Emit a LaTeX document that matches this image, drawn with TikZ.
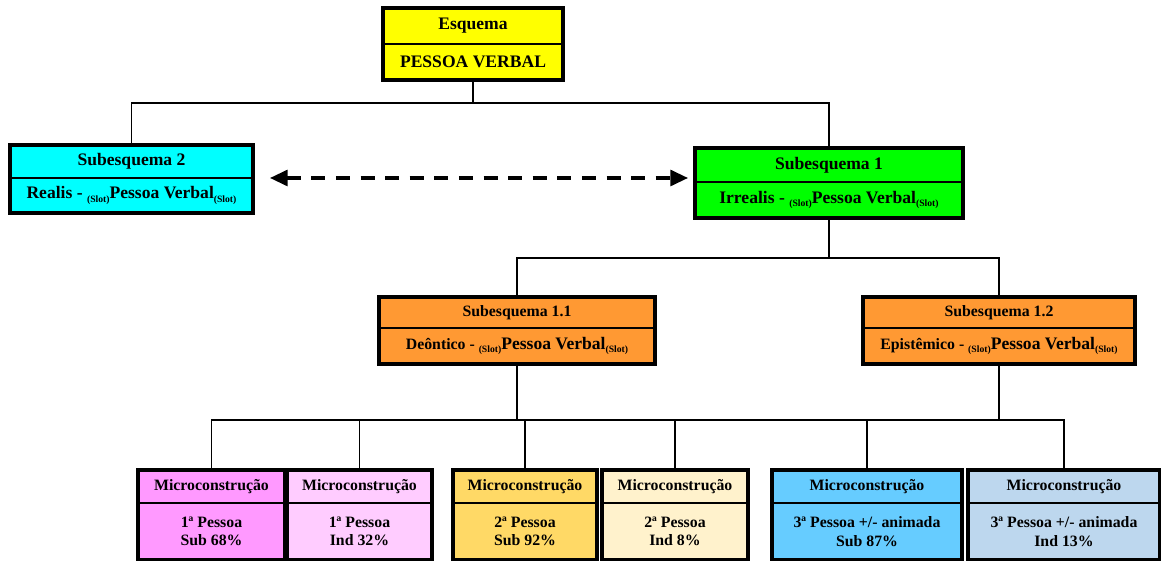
\documentclass[tikz,border=0pt]{standalone}
\usepackage{fontspec}
\setmainfont{Liberation Serif}
\usetikzlibrary{positioning,arrows.meta}

\definecolor{esqyellow}{HTML}{FFFF00}
\definecolor{subcyan}{HTML}{00FFFF}
\definecolor{subgreen}{HTML}{00FF00}
\definecolor{suborange}{HTML}{FF9933}
\definecolor{mcpink}{HTML}{FF99FF}
\definecolor{mclightpink}{HTML}{FFCCFF}
\definecolor{mcgold}{HTML}{FFD966}
\definecolor{mccream}{HTML}{FFF2CC}
\definecolor{mcblue}{HTML}{66CCFF}
\definecolor{mclightblue}{HTML}{BDD7EE}

\newcommand{\slt}{\raisebox{-0.4ex}{\fontsize{5.5}{6}\selectfont(Slot)}}
\newcommand{\pverb}{{\fontsize{10}{12}\selectfont Pessoa Verbal}}

\tikzset{
  part/.style={draw, line width=0.6pt, outer sep=0pt, inner sep=1pt, align=center, font=\bfseries\fontsize{10}{12}\selectfont},
  micro/.style={part, font=\bfseries\fontsize{9}{10.5}\selectfont},
  frame/.style={draw, line width=2pt},
  link/.style={line width=1pt},
  dasharrow/.style={line width=1.8pt, dash pattern=on 8pt off 6pt, {Triangle[length=10pt,width=9pt]}-{Triangle[length=10pt,width=9pt]}},
}

\begin{document}
\begin{tikzpicture}[x=0.02cm, y=-0.02cm]
\useasboundingbox (0,0) rectangle (1161,561);

% esquema
\node[part, fill=esqyellow, minimum width=3.6cm, minimum height=0.72cm, anchor=north] (esq) at (473,8) {Esquema};
\node[part, fill=esqyellow, minimum width=3.6cm, minimum height=0.72cm, below=0pt of esq] (esq-b) {PESSOA VERBAL};
\draw[frame] (esq.north west) rectangle (esq-b.south east);

% subesquemas
\node[part, fill=subcyan, minimum width=4.86cm, minimum height=0.66cm, anchor=north] (sub2) at (131.5,145) {Subesquema 2};
\node[part, fill=subcyan, minimum width=4.86cm, minimum height=0.70cm, below=0pt of sub2] (sub2-b) {Realis - \slt\pverb\slt};
\draw[frame] (sub2.north west) rectangle (sub2-b.south east);

\node[part, fill=subgreen, minimum width=5.36cm, minimum height=0.68cm, anchor=north] (sub1) at (829,148) {Subesquema 1};
\node[part, fill=subgreen, minimum width=5.36cm, minimum height=0.72cm, below=0pt of sub1] (sub1-b) {Irrealis - \slt\pverb\slt};
\draw[frame] (sub1.north west) rectangle (sub1-b.south east);

\node[part, fill=suborange, font=\bfseries\fontsize{9}{11}\selectfont, minimum width=5.52cm, minimum height=0.62cm, anchor=north] (s11) at (517,297) {Subesquema 1.1};
\node[part, fill=suborange, font=\bfseries\fontsize{9}{11}\selectfont, minimum width=5.52cm, minimum height=0.72cm, below=0pt of s11] (s11-b) {Deôntico - \slt\pverb\slt};
\draw[frame] (s11.north west) rectangle (s11-b.south east);

\node[part, fill=suborange, font=\bfseries\fontsize{9}{11}\selectfont, minimum width=5.44cm, minimum height=0.62cm, anchor=north] (s12) at (999,297) {Subesquema 1.2};
\node[part, fill=suborange, font=\bfseries\fontsize{9}{11}\selectfont, minimum width=5.44cm, minimum height=0.72cm, below=0pt of s12] (s12-b) {Epistêmico - \slt\pverb\slt};
\draw[frame] (s12.north west) rectangle (s12-b.south east);

% microconstrucoes
\node[micro, fill=mcpink, minimum width=2.94cm, minimum height=0.66cm, anchor=north] (m1) at (211.5,470) {Microconstrução};
\node[micro, fill=mcpink, minimum width=2.94cm, minimum height=1.14cm, below=0pt of m1] (m1-b) {1ª Pessoa\\Sub 68\%};
\node[micro, fill=mclightpink, minimum width=2.9cm, minimum height=0.66cm, anchor=north] (m2) at (359.5,470) {Microconstrução};
\node[micro, fill=mclightpink, minimum width=2.9cm, minimum height=1.14cm, below=0pt of m2] (m2-b) {1ª Pessoa\\Ind 32\%};
\node[micro, fill=mcgold, minimum width=2.88cm, minimum height=0.66cm, anchor=north] (m3) at (525,470) {Microconstrução};
\node[micro, fill=mcgold, minimum width=2.88cm, minimum height=1.14cm, below=0pt of m3] (m3-b) {2ª Pessoa\\Sub 92\%};
\node[micro, fill=mccream, minimum width=2.92cm, minimum height=0.66cm, anchor=north] (m4) at (675,470) {Microconstrução};
\node[micro, fill=mccream, minimum width=2.92cm, minimum height=1.14cm, below=0pt of m4] (m4-b) {2ª Pessoa\\Ind 8\%};
\node[micro, fill=mcblue, minimum width=3.8cm, minimum height=0.66cm, anchor=north] (m5) at (867,470) {Microconstrução};
\node[micro, fill=mcblue, minimum width=3.8cm, minimum height=1.14cm, below=0pt of m5] (m5-b) {3ª Pessoa +/- animada\\Sub 87\%};
\node[micro, fill=mclightblue, minimum width=3.84cm, minimum height=0.66cm, anchor=north] (m6) at (1064,470) {Microconstrução};
\node[micro, fill=mclightblue, minimum width=3.84cm, minimum height=1.14cm, below=0pt of m6] (m6-b) {3ª Pessoa +/- animada\\Ind 13\%};
\foreach \m in {m1,m2,m3,m4,m5,m6}
  \draw[frame] (\m.north west) rectangle (\m-b.south east);

% ligacoes
\coordinate (j0) at (473,103);
\coordinate (j1) at (829,258);
\coordinate (j2) at (517,420);
\draw[link] (esq-b.south) -- (j0);
\draw[link] (sub2.north) |- (j0) -| (sub1.north);
\draw[link] (sub1-b.south) -- (j1);
\draw[link] (s11.north) |- (j1) -| (s12.north);
\draw[link] (s11-b.south) -- (s11-b.south |- j2);
\draw[link] (s12-b.south) -- (s12-b.south |- j2);
\draw[link] (m1.north) |- (j2) -| (m6.north);
\foreach \m in {m2,m3,m4,m5}
  \draw[link] (\m.north) -- (\m.north |- j2);

\draw[dasharrow, shorten <=0.34cm, shorten >=0.14cm] (sub2.south east) -- (sub2.south east -| sub1.west);
\end{tikzpicture}
\end{document}
